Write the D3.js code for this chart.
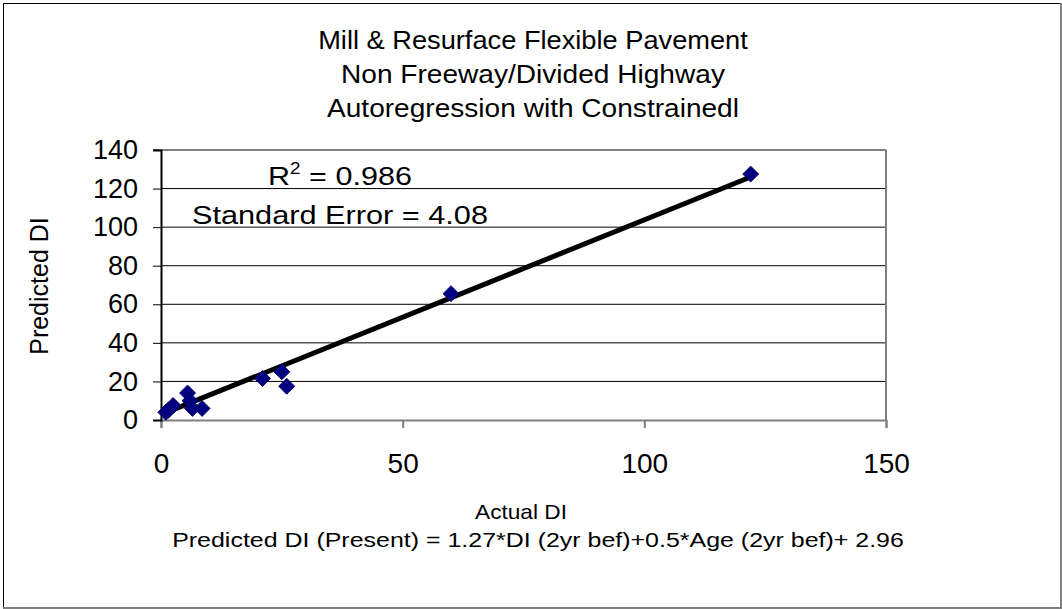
<!DOCTYPE html>
<html>
<head>
<meta charset="utf-8">
<script src="https://cdn.jsdelivr.net/npm/d3@7"></script>
<style>
  html, body { margin: 0; padding: 0; background: #fff; }
  svg { display: block; }
  text { font-family: "Liberation Sans", Arial, sans-serif; fill: #000; }
</style>
</head>
<body>
<svg id="chart" width="1062" height="609"></svg>
<script>
const titleLines = ["Mill & Resurface Flexible Pavement", "Non Freeway/Divided Highway", "Autoregression with Constrainedl"];
const actualDI = [1, 1.5, 2.5, 5.5, 6, 6.5, 8.5, 21, 25, 26, 60, 122];
const predictedDI = [4, 5, 7.5, 14, 10, 6, 6, 21.5, 25, 17.5, 65.5, 127.5];
const xTicks = [0, 50, 100, 150];
const yTicks = [0, 20, 40, 60, 80, 100, 120, 140];
const trendSlope = 1.01;
const trendIntercept = 2.8;
const xLabel = "Actual DI";
const yLabel = "Predicted DI";
const equation = "Predicted DI (Present) = 1.27*DI (2yr bef)+0.5*Age (2yr bef)+ 2.96";
const seText = "Standard Error = 4.08";

const svg = d3.select("#chart");
const W = 1062, H = 609;

// horizontally stretch a text node to a target width around anchor x
function fitWidth(sel, target, ax) {
  const w = sel.node().getComputedTextLength();
  const k = target / w;
  sel.attr("transform", `translate(${ax},0) scale(${k},1) translate(${-ax},0)`);
}

// outer frame
svg.append("rect").attr("x", 3.5).attr("y", 3.5).attr("width", W - 5).attr("height", H - 5)
  .attr("fill", "#fff").attr("stroke", "#000").attr("stroke-width", 1);
svg.append("line").attr("x1", W - 1).attr("x2", W - 1).attr("y1", 3).attr("y2", H).attr("stroke", "#808080").attr("stroke-width", 2);
svg.append("line").attr("x1", 3).attr("x2", W).attr("y1", H - 1).attr("y2", H - 1).attr("stroke", "#808080").attr("stroke-width", 2);

const x = d3.scaleLinear().domain([0, 150]).range([161, 886]);
const y = d3.scaleLinear().domain([0, 140]).range([420, 150]);

// title
const titleWidths = [430, 384, 412];
svg.append("g").selectAll("text").data(titleLines).join("text")
  .attr("x", 533).attr("y", (d, i) => 49 + i * 34)
  .attr("text-anchor", "middle").attr("font-size", 25).text(d => d)
  .each(function(d, i) { fitWidth(d3.select(this), titleWidths[i], 533); });

// gridlines
svg.append("g").selectAll("line").data(yTicks.filter(t => t > 0 && t < 140)).join("line")
  .attr("x1", x(0)).attr("x2", x(150)).attr("y1", d => y(d)).attr("y2", d => y(d))
  .attr("stroke", "#000").attr("stroke-width", 1);

// plot border top/right
svg.append("line").attr("x1", x(0) - 8).attr("x2", x(150)).attr("y1", y(140)).attr("y2", y(140)).attr("stroke", "#808080").attr("stroke-width", 2);
svg.append("line").attr("x1", x(150)).attr("x2", x(150)).attr("y1", y(140)).attr("y2", y(0)).attr("stroke", "#808080").attr("stroke-width", 2);

// x axis
const xAxis = svg.append("g").attr("transform", `translate(0,${y(0)})`)
  .call(d3.axisBottom(x).tickValues(xTicks).tickSize(8).tickPadding(25).tickFormat(d3.format("d")));
xAxis.select(".domain").attr("stroke", "#808080").attr("stroke-width", 2);
xAxis.selectAll(".tick line").attr("stroke", "#808080").attr("stroke-width", 2);
xAxis.selectAll("text").attr("font-size", 28).attr("font-family", "Liberation Sans, Arial, sans-serif").attr("fill", "#000");

// y axis
const yAxis = svg.append("g").attr("transform", `translate(${x(0)},0)`)
  .call(d3.axisLeft(y).tickValues(yTicks).tickSize(8).tickPadding(15).tickFormat(d3.format("d")));
yAxis.select(".domain").attr("stroke", "#000").attr("stroke-width", 2);
yAxis.selectAll(".tick line").attr("stroke", "#000").attr("stroke-width", 1);
yAxis.selectAll("text").attr("font-size", 27).attr("font-family", "Liberation Sans, Arial, sans-serif").attr("fill", "#000");

// trendline
const xMin = d3.min(actualDI), xMax = d3.max(actualDI);
svg.append("line")
  .attr("x1", x(xMin)).attr("y1", y(trendSlope * xMin + trendIntercept))
  .attr("x2", x(xMax)).attr("y2", y(trendSlope * xMax + trendIntercept))
  .attr("stroke", "#000").attr("stroke-width", 5).attr("stroke-linecap", "round");

// markers
const pts = actualDI.map((d, i) => [d, predictedDI[i]]);
svg.append("g").selectAll("path").data(pts).join("path")
  .attr("d", d3.symbol().type(d3.symbolSquare).size(128))
  .attr("transform", d => `translate(${x(d[0])},${y(d[1])}) rotate(45)`)
  .attr("fill", "#000080").attr("stroke", "#000060").attr("stroke-width", 0.8);

// annotations
const r2 = svg.append("text").attr("x", 268).attr("y", 185).attr("font-size", 26);
r2.append("tspan").text("R");
r2.append("tspan").attr("dy", -11).attr("font-size", 16).text("2");
r2.append("tspan").attr("dy", 11).text(" = 0.986");
fitWidth(r2, 144, 268);
const se = svg.append("text").attr("x", 192).attr("y", 224).attr("font-size", 26).text(seText);
fitWidth(se, 296, 192);

// axis titles
svg.append("text").attr("transform", "translate(48,286) rotate(-90)").attr("text-anchor", "middle")
  .attr("font-size", 25).text(yLabel);
const xl = svg.append("text").attr("x", 521).attr("y", 519).attr("text-anchor", "middle").attr("font-size", 20).text(xLabel);
fitWidth(xl, 92, 521);
const eq = svg.append("text").attr("x", 538).attr("y", 547).attr("text-anchor", "middle").attr("font-size", 20).text(equation);
fitWidth(eq, 732, 538);
</script>
</body>
</html>
